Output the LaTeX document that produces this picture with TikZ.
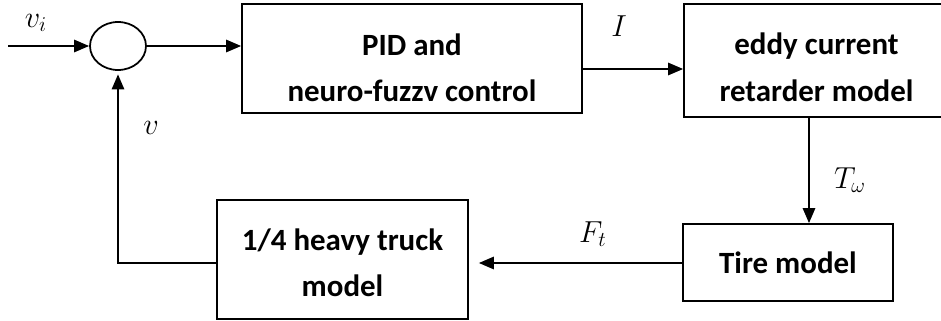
\documentclass[tikz,border=0pt]{standalone}
\usepackage{fontspec}
\setmainfont{Carlito}
\usetikzlibrary{arrows.meta,shapes.geometric,calc}
\begin{document}
\begin{tikzpicture}[x=0.02cm,y=-0.02cm,
  blk/.style={draw,line width=1pt,rectangle,align=center,inner sep=0pt,
    font=\fontsize{17.6}{26.5}\selectfont\bfseries},
  arr/.style={line width=1pt,-{Triangle[length=8.5pt,width=7pt]}},
  lab/.style={font=\fontsize{18}{20}\selectfont,inner sep=0pt}]
\useasboundingbox (0,0) rectangle (941,321);
\node[draw,line width=1pt,ellipse,minimum width=1.12cm,minimum height=0.96cm,inner sep=0pt] (sum) at (118,46) {};
\node[blk,minimum width=6.8cm,minimum height=2.18cm] (pid) at (412,58.5) {\rule{0pt}{23pt}PID and\\neuro-fuzzv control};
\node[blk,minimum width=5.3cm,minimum height=2.26cm] (eddy) at (816.5,60.5) {\rule{0pt}{20pt}eddy current\\retarder model};
\node[blk,minimum width=4.2cm,minimum height=1.54cm] (tire) at (788,262.5) {Tire model};
\node[blk,minimum width=5.02cm,minimum height=2.38cm] (truck) at (342.5,259.5) {\rule{0pt}{16pt}1/4 heavy truck\\model};
\coordinate (in) at (8,46);
\coordinate (tx) at (809,0);
\coordinate (py) at (0,69);
\coordinate (fy) at (0,263);
\draw[arr] (in) -- (sum.west);
\draw[arr] (sum.east) -- (sum.east -| pid.west);
\draw[arr] (pid.east |- py) -- (eddy.west |- py);
\draw[arr] (eddy.south -| tx) -- (tire.north -| tx);
\draw[arr,shorten >=0.2cm] (tire.west |- fy) -- (truck.east |- fy);
\draw[arr,shorten >=2pt] (truck.west |- fy) -| (sum.south);
\node[lab] (lvi) at (36,23) {$v_i$};
\node[lab] (lI) at (619,26) {$I$};
\node[lab] (lT) at (850,180) {$T_\omega$};
\node[lab] (lF) at (593,234) {$F_t$};
\node[lab] (lv) at (151,128) {$v$};
\end{tikzpicture}
\end{document}
